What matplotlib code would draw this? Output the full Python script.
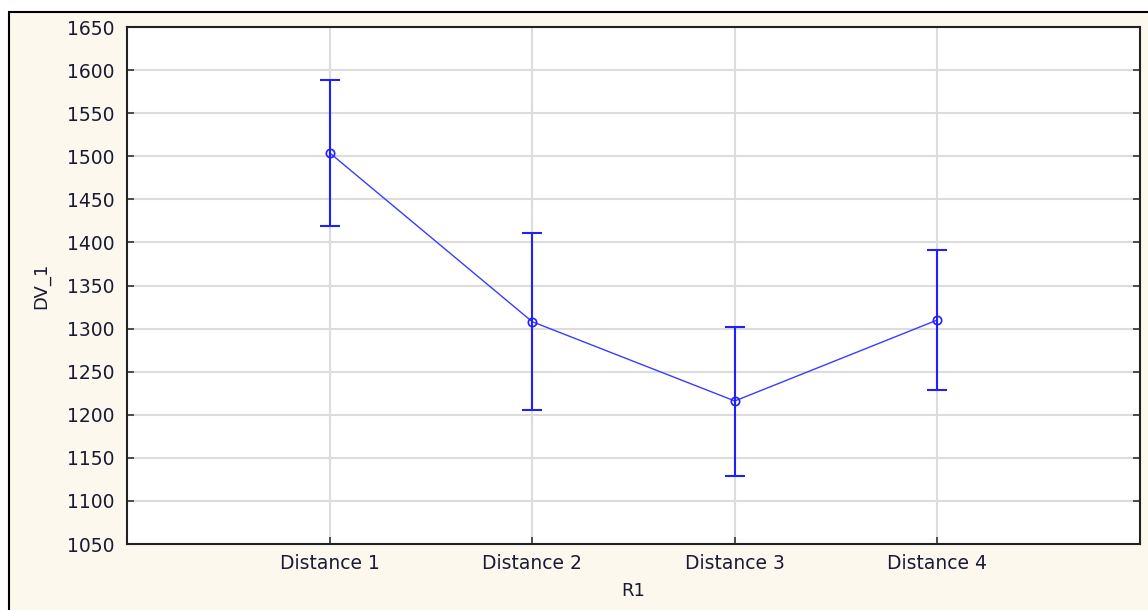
import matplotlib.pyplot as plt
from matplotlib.patches import Rectangle

# Data
categories = ['Distance 1', 'Distance 2', 'Distance 3', 'Distance 4']
means = [1504, 1308, 1216, 1310]
upper = [1588, 1411, 1302, 1391]
lower = [1419, 1206, 1129, 1229]

yerr = [[m - lo for m, lo in zip(means, lower)],
        [up - m for m, up in zip(means, upper)]]
xpos = list(range(1, len(categories) + 1))

plt.rcParams['font.family'] = 'DejaVu Sans'
text_color = '#1a1a33'

fig = plt.figure(figsize=(11.48, 6.10), dpi=100)
fig.patch.set_facecolor('white')

# cream background with a border on left/top
fig.patches.append(Rectangle((9 / 1148, -0.1), 1.2, (610 - 12) / 610 + 0.1,
                             transform=fig.transFigure, facecolor='#fdf8ee',
                             edgecolor='black', linewidth=1.5, zorder=-1))

ax = fig.add_axes([127 / 1148, 66 / 610, 1013 / 1148, 517 / 610])
ax.set_facecolor('white')

ax.plot(xpos, means, color='#3b3bff', linewidth=1.0, zorder=3)
ax.errorbar(xpos, means, yerr=yerr, fmt='none', ecolor='#2020ff',
            elinewidth=1.5, capsize=7.5, capthick=1.5, zorder=4)
ax.plot(xpos, means, linestyle='none', marker='o', markersize=6,
        markerfacecolor='none', markeredgecolor='#2020ff',
        markeredgewidth=1.2, zorder=5)

ax.set_xlim(0, 5)
ax.set_ylim(1050, 1650)
ax.set_yticks(range(1050, 1651, 50))
ax.set_xticks(xpos)
ax.set_xticklabels(categories)

ax.grid(True, color='#dcdcdc', linewidth=1.5, zorder=0)
ax.set_axisbelow(True)

ax.tick_params(axis='both', direction='in', length=5, width=1.2,
               labelsize=13.5, labelcolor=text_color, color='#333333')
ax.tick_params(axis='y', right=True, pad=9)
ax.tick_params(axis='x', pad=7)

for s in ax.spines.values():
    s.set_linewidth(1.5)
    s.set_color('#222222')

ax.set_ylabel('DV_1', fontsize=13, color=text_color, labelpad=12)
ax.set_xlabel('R1', fontsize=13, color=text_color, labelpad=7)

fig.savefig('out.png', dpi=100, facecolor=fig.get_facecolor())
